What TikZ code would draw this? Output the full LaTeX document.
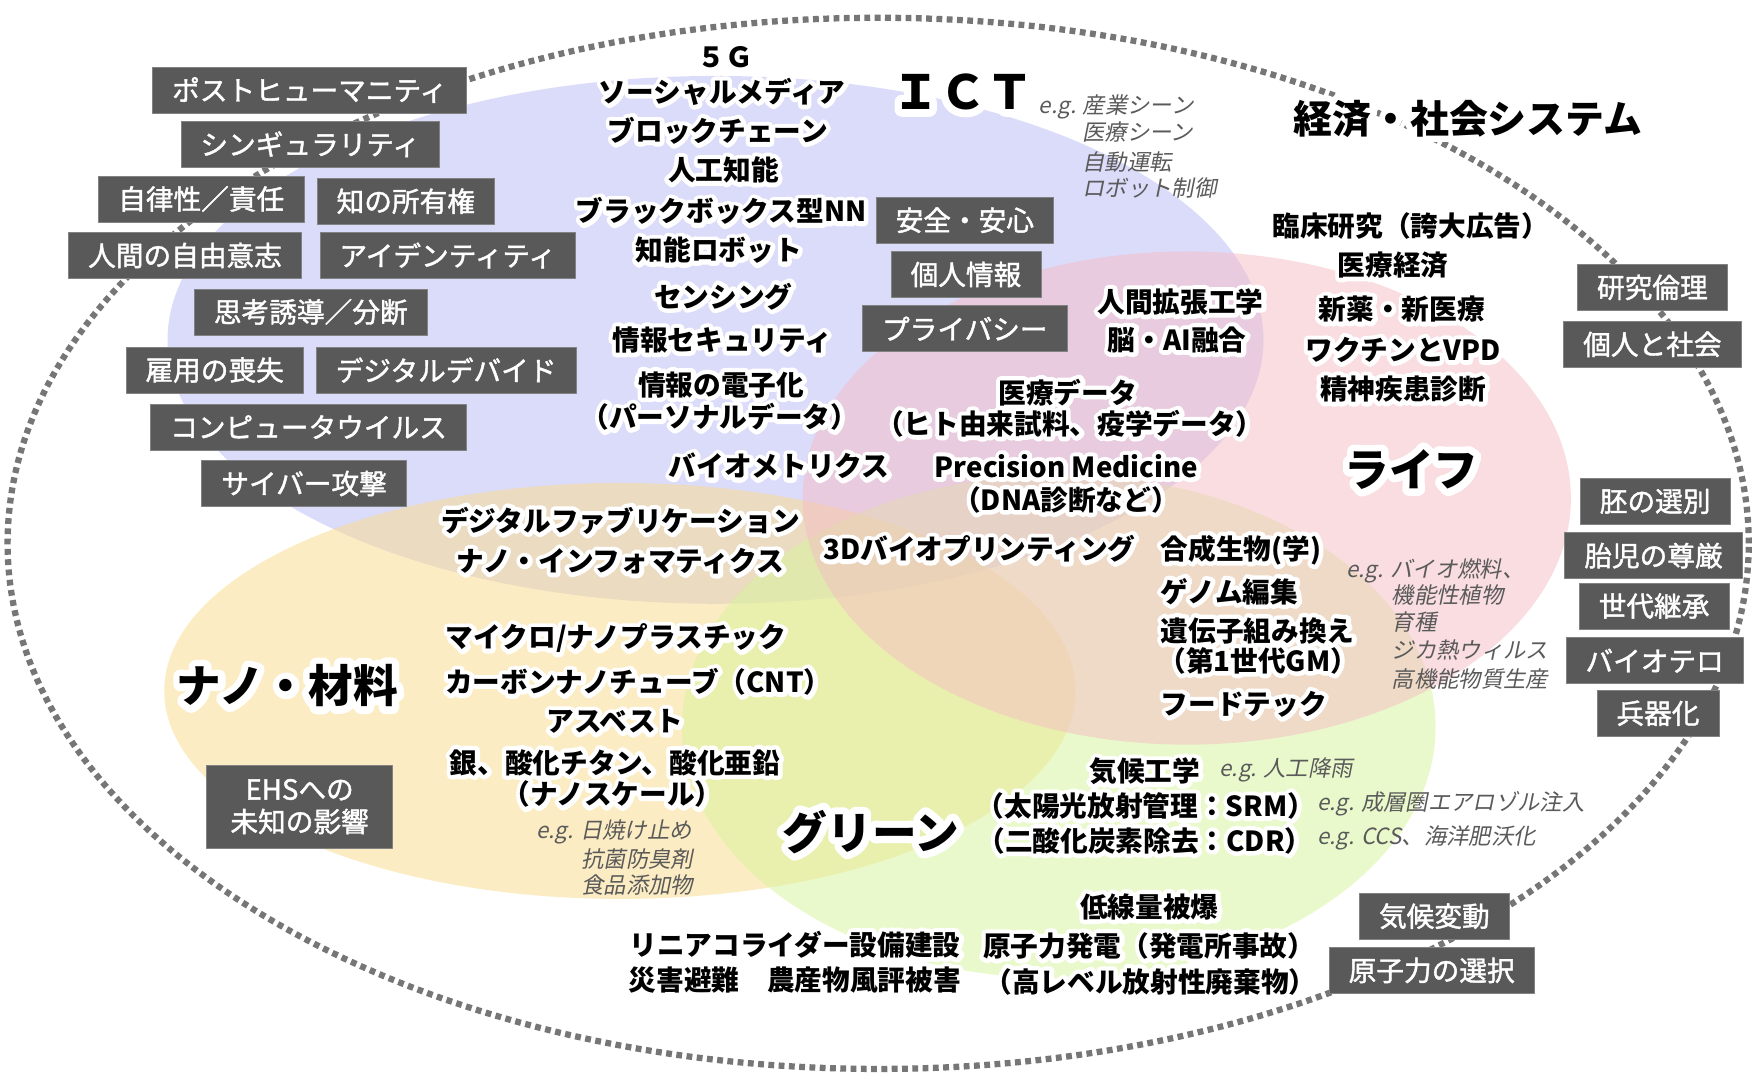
\documentclass[tikz,border=0pt]{standalone}
\usepackage{fontspec}
\setmainfont{Noto Sans CJK JP}
\newfontfamily\halofont{Noto Sans CJK JP}[FakeBold=32]
\newfontfamily\boxfont{Noto Sans CJK JP}[FakeBold=1.5]
\newfontfamily\egfont{Noto Sans CJK JP}[FakeSlant=0.2]
\definecolor{boxgray}{RGB}{89,89,89}
\definecolor{boxedge}{RGB}{130,130,130}
\definecolor{dotgray}{RGB}{118,118,118}
\definecolor{eggray}{RGB}{90,90,90}
\definecolor{cblue}{RGB}{185,185,247}
\definecolor{corange}{RGB}{251,219,137}
\definecolor{cgreen}{RGB}{215,245,155}
\definecolor{cpink}{RGB}{245,189,195}
\newcommand{\hl}[1]{\leavevmode\rlap{\halofont\color{white}#1}#1}
\tikzset{
  lbl/.style={font=\fontsize{17.6}{21}\selectfont\bfseries, inner sep=0pt},
  bigl/.style={font=\fontsize{28.4}{32}\selectfont\bfseries, inner sep=0pt},
  eg/.style={font=\fontsize{14.2}{17}\selectfont\egfont, text=eggray, inner sep=0pt, anchor=west},
  gbox/.style={fill=boxgray, draw=boxedge, line width=0.4pt, text=white,
    font=\fontsize{17.6}{20.6}\selectfont\boxfont, inner xsep=0.4375cm, inner ysep=0pt,
    minimum height=1.025cm},
  region/.style={fill opacity=0.5},
  dotline/.style={draw=dotgray, line width=0.14cm, dash pattern=on 0.13cm off 0.1cm}
}
\begin{document}
\begin{tikzpicture}[x=0.025cm,y=-0.025cm, line join=round, line cap=butt]
\useasboundingbox (0,0) rectangle (1568,959);
\fill[white] (0,0) rectangle (1568,959);
% colored regions
\fill[region, cblue] (640,304) ellipse [x radius=12.25cm, y radius=5.9cm];
\fill[region, corange] (554.5,618) ellipse [x radius=10.1875cm, y radius=4.65cm];
\fill[region, cgreen] (947,650) ellipse [x radius=8.425cm, y radius=5.625cm];
\fill[region, cpink] (1061.5,445.5) ellipse [x radius=8.5875cm, y radius=5.5125cm];
% outer dotted ellipse
\draw[dotline] (785.5,486) ellipse [x radius=19.4625cm, y radius=11.75cm];

\begin{scope}[line join=round]
% ICT column
\node[lbl] (n5g) at (649,51.5) {\hl{５Ｇ}};
\node[lbl] (nsocial) at (646,82) {\hl{ソーシャルメディア}};
\node[lbl] (nblock) at (642,117) {\hl{ブロックチェーン}};
\node[lbl] (nai) at (647,152) {\hl{人工知能}};
\node[lbl] (nblack) at (645,189) {\hl{ブラックボックス型NN}};
\node[lbl] (nrobot) at (643,224) {\hl{知能ロボット}};
\node[lbl] (nsens) at (647,265) {\hl{センシング}};
\node[lbl] (nsec) at (646,304) {\hl{情報セキュリティ}};
\node[lbl] (nelec) at (645,344) {\hl{情報の電子化}};
\node[lbl] (npers) at (644,373) {\hl{（パーソナルデータ）}};
\node[lbl] (nbiom) at (697,417) {\hl{バイオメトリクス}};
\node[font=\fontsize{29.9}{34}\selectfont\bfseries, inner sep=0pt] (ict) at (861,82) {\hl{ＩＣＴ}};
\node[eg] (eg1) at (929,95.5) {e.g. 産業シーン};
\node[eg] (eg2) at (968,118.5) {医療シーン};
\node[eg] (eg3) at (968,145) {自動運転};
\node[eg] (eg4) at (968,168) {ロボット制御};

% left boxes
\node[gbox] (b1) at (277,80.5) {ポストヒューマニティ};
\node[gbox] (b2) at (277.5,129) {シンギュラリティ};
\node[gbox] (b3) at (180,178) {自律性／責任};
\node[gbox] (b4) at (363,180) {知の所有権};
\node[gbox] (b5) at (165.5,228.5) {人間の自由意志};
\node[gbox] (b6) at (400.5,228.5) {アイデンティティ};
\node[gbox] (b7) at (278,279) {思考誘導／分断};
\node[gbox] (b8) at (192,331) {雇用の喪失};
\node[gbox] (b9) at (399,331) {デジタルデバイド};
\node[gbox] (b10) at (276,382) {コンピュータウイルス};
\node[gbox] (b11) at (272,432.5) {サイバー攻撃};

% middle boxes
\node[gbox] (m1) at (863,197) {安全・安心};
\node[gbox] (m2) at (864,245.5) {個人情報};
\node[gbox] (m3) at (863,294) {プライバシー};

% right boxes
\node[gbox] (r1) at (1478,257) {研究倫理};
\node[gbox] (r2) at (1478,308) {個人と社会};
\node[gbox] (r3) at (1480.5,448.5) {胚の選別};
\node[gbox] (r4) at (1479,497) {胎児の尊厳};
\node[gbox] (r5) at (1479.5,542) {世代継承};
\node[gbox] (r6) at (1480,591) {バイオテロ};
\node[gbox] (r7) at (1483,638) {兵器化};

% title
\node[font=\fontsize{24.75}{28}\selectfont\bfseries, inner sep=0pt] (title) at (1313,106) {\hl{経済・社会システム}};

% life
\node[lbl] (l1) at (1056,270) {\hl{人間拡張工学}};
\node[lbl] (l2) at (1053,304) {\hl{脳・AI融合}};
\node[lbl] (l3) at (955,351) {\hl{医療データ}};
\node[lbl] (l4) at (957,379) {\hl{（ヒト由来試料、疫学データ）}};
\node[lbl] (l5) at (954,417) {\hl{Precision Medicine}};
\node[lbl] (l6) at (953.5,447) {\hl{（DNA診断など）}};
\node[lbl] (l7) at (1262,202) {\hl{臨床研究（誇大広告）}};
\node[lbl] (l8) at (1246,237) {\hl{医療経済}};
\node[lbl] (l9) at (1254,276.5) {\hl{新薬・新医療}};
\node[lbl] (l10) at (1255,313) {\hl{ワクチンとVPD}};
\node[lbl] (l11) at (1255,348) {\hl{精神疾患診断}};
\node[bigl] (life) at (1262.5,420) {\hl{ライフ}};
\node[lbl] (l12) at (876,491) {\hl{3Dバイオプリンティング}};
\node[lbl, anchor=west] (l13) at (1038,492) {\hl{合成生物(学)}};
\node[lbl, anchor=west] (l14) at (1038,529) {\hl{ゲノム編集}};
\node[lbl, anchor=west] (l15) at (1038,564) {\hl{遺伝子組み換え}};
\node[lbl] (l16) at (1125.5,591) {\hl{（第1世代GM）}};
\node[lbl, anchor=west] (l17) at (1038,630) {\hl{フードテック}};
\node[eg] (eg5) at (1204,510.5) {e.g. バイオ燃料、};
\node[eg] (eg6) at (1244.6,532) {機能性植物};
\node[eg] (eg7) at (1244.6,556) {育種};
\node[eg] (eg8) at (1244.6,581) {ジカ熱ウィルス};
\node[eg] (eg9) at (1244.6,607) {高機能物質生産};

% nano
\node[lbl] (k1) at (555,465.6) {\hl{デジタルファブリケーション}};
\node[lbl] (k2) at (555,502) {\hl{ナノ・インフォマティクス}};
\node[lbl] (k3) at (551,571) {\hl{マイクロ/ナノプラスチック}};
\node[lbl] (k4) at (571,610) {\hl{カーボンナノチューブ（CNT）}};
\node[lbl] (k5) at (550,645.5) {\hl{アスベスト}};
\node[lbl] (k6) at (550,682) {\hl{銀、酸化チタン、酸化亜鉛}};
\node[lbl] (k7) at (548,710.5) {\hl{（ナノスケール）}};
\node[bigl] (nano) at (257,613.5) {\hl{ナノ・材料}};
\node[gbox, align=center, minimum width=4.15cm, minimum height=1.8625cm] (ehs) at (268,721.5) {EHSへの\\未知の影響};
\node[eg, anchor=east] (eg10) at (619,744) {e.g. 日焼け止め};
\node[eg] (eg11) at (519.8,768) {抗菌防臭剤};
\node[eg] (eg12) at (519.8,792) {食品添加物};

% green
\node[bigl] (green) at (779,744) {\hl{グリーン}};
\node[lbl] (g1) at (1024,690) {\hl{気候工学}};
\node[lbl] (g2) at (1025,721) {\hl{（太陽光放射管理：SRM）}};
\node[lbl] (g3) at (1024,752) {\hl{（二酸化炭素除去：CDR）}};
\node[eg] (eg13) at (1090.5,688.5) {e.g. 人工降雨};
\node[eg] (eg14) at (1178,719) {e.g. 成層圏エアロゾル注入};
\node[eg] (eg15) at (1178,749.5) {e.g. CCS、海洋肥沃化};
\node[lbl] (g4) at (1028,811) {\hl{低線量被爆}};
\node[lbl] (g5) at (711,845) {\hl{リニアコライダー設備建設}};
\node[lbl] (g6) at (711,877) {\hl{災害避難　農産物風評被害}};
\node[lbl] (g7) at (1028,846) {\hl{原子力発電（発電所事故）}};
\node[lbl] (g8) at (1029,878) {\hl{（高レベル放射性廃棄物）}};
\node[gbox] (c1) at (1283,819.5) {気候変動};
\node[gbox] (c2) at (1280.6,868) {原子力の選択};
\end{scope}
\end{tikzpicture}
\end{document}
